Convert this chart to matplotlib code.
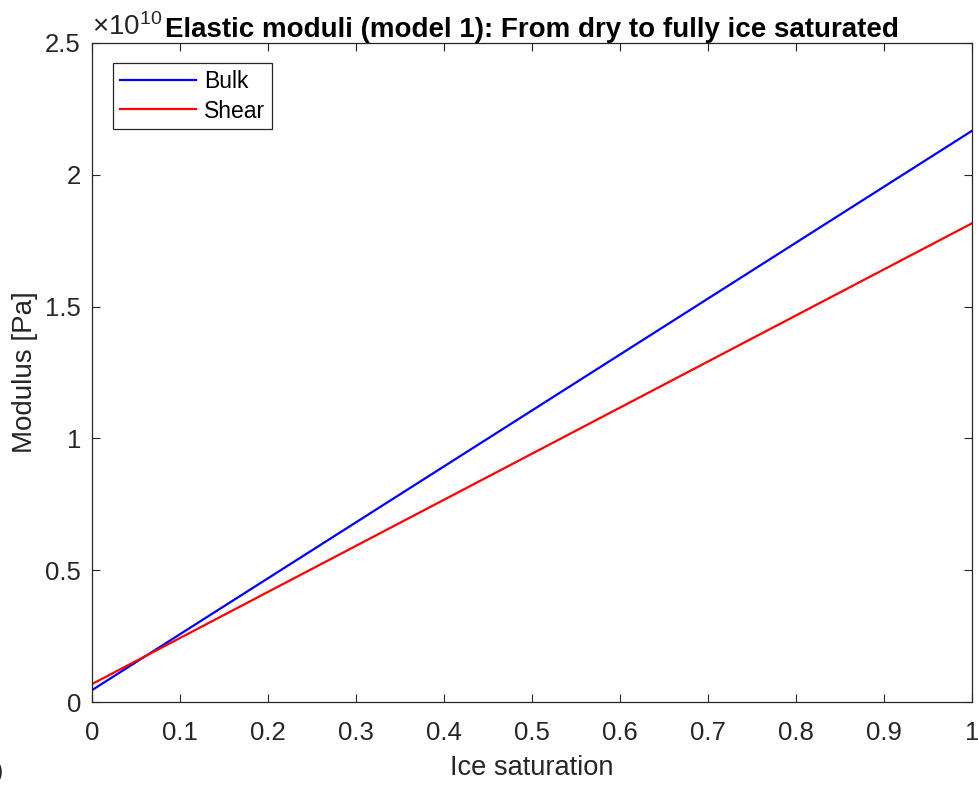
import matplotlib
matplotlib.use("Agg")
import matplotlib.pyplot as plt
from matplotlib.ticker import FuncFormatter, MultipleLocator

plt.rcParams['font.family'] = ['Liberation Sans', 'DejaVu Sans']
plt.rcParams['mathtext.fontset'] = 'custom'
plt.rcParams['mathtext.rm'] = 'Liberation Sans'
plt.rcParams['mathtext.it'] = 'Liberation Sans:italic'
plt.rcParams['mathtext.bf'] = 'Liberation Sans:bold'

# Ice saturation (fraction) and elastic moduli in Pa
ice_saturation = [0.0, 1.0]
bulk_modulus = [0.045e10, 2.167e10]
shear_modulus = [0.068e10, 1.816e10]

axis_gray = (0.15, 0.15, 0.15)

fig = plt.figure(figsize=(9.79, 7.87), dpi=100)
ax = fig.add_axes([92 / 979, 1 - 702 / 787, 880 / 979, 659 / 787])

ax.plot(ice_saturation, bulk_modulus, color=(0, 0, 1), lw=1.6, label='Bulk')
ax.plot(ice_saturation, shear_modulus, color=(1, 0, 0), lw=1.6, label='Shear')

ax.set_xlim(0, 1)
ax.set_ylim(0, 2.5e10)
ax.xaxis.set_major_locator(MultipleLocator(0.1))
ax.yaxis.set_major_locator(MultipleLocator(0.5e10))
ax.xaxis.set_major_formatter(FuncFormatter(lambda v, p: f'{v:g}'))
ax.yaxis.set_major_formatter(FuncFormatter(lambda v, p: f'{v / 1e10:g}'))

ax.tick_params(direction='in', length=6, width=0.8, colors=axis_gray,
               labelsize=18.5, top=True, right=True)
ax.tick_params(axis='x', pad=14)
ax.tick_params(axis='y', pad=8)
for s in ax.spines.values():
    s.set_color(axis_gray)
    s.set_linewidth(0.9)

ax.set_xlabel('Ice saturation', fontsize=19.6, color=axis_gray, labelpad=7)
ax.set_ylabel('Modulus [Pa]', fontsize=20, color=axis_gray, labelpad=5)
ax.set_title('Elastic moduli (model 1): From dry to fully ice saturated',
             fontsize=20, fontweight='bold', pad=4)

ax.text(0.0, 1.003, r'$\times\mathregular{10^{10}}$', transform=ax.transAxes,
        fontsize=20, color=axis_gray, ha='left', va='bottom')

leg = ax.legend(loc='upper left', fontsize=16.5, frameon=True, fancybox=False,
                edgecolor=axis_gray, framealpha=1, borderpad=0.3,
                borderaxespad=0, handlelength=3.3, handletextpad=0.35,
                labelspacing=0.3, bbox_to_anchor=(0.024, 0.970))
leg.get_frame().set_linewidth(0.9)

# Panel marker partly outside the left edge
fig.text(4 / 979, 1 - 772 / 787, '(b)', fontsize=19, color=axis_gray,
         ha='right', va='center')

fig.savefig('out.png', dpi=100)
